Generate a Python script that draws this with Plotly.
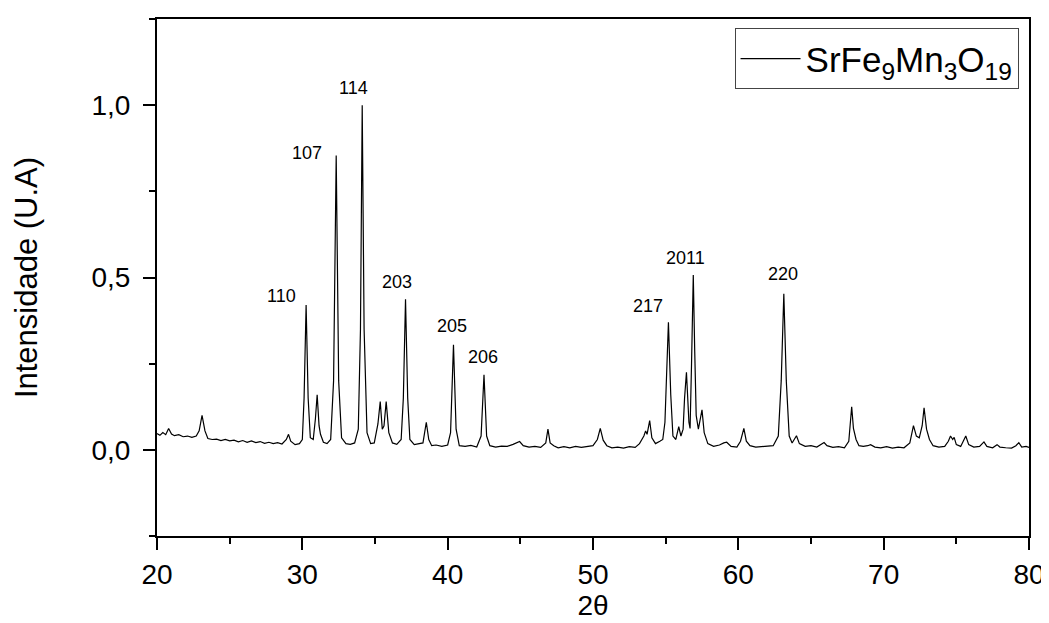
import plotly.graph_objects as go

# XRD pattern (2-theta in degrees, normalised intensity)
two_theta = [
    20.0, 20.2, 20.4, 20.6, 20.8, 21.0, 21.2, 21.5, 21.8, 22.1, 22.4, 22.7, 22.9, 23.1, 23.3, 23.5,
    23.8, 24.1, 24.4, 24.7, 25.0, 25.3, 25.6, 25.9, 26.2, 26.5, 26.8, 27.1, 27.4, 27.7, 28.0, 28.3,
    28.6, 28.9, 29.05, 29.2, 29.5, 29.8, 30.0, 30.12, 30.26, 30.4, 30.55, 30.75, 30.9, 31.02, 31.15,
    31.25, 31.45, 31.7, 31.95, 32.15, 32.33, 32.5, 32.7, 33.0, 33.3, 33.6, 33.85, 34.0, 34.12, 34.25,
    34.45, 34.7, 34.95, 35.1, 35.2, 35.36, 35.5, 35.62, 35.77, 35.95, 36.2, 36.5, 36.8, 36.95, 37.1,
    37.25, 37.4, 37.7, 38.0, 38.3, 38.53, 38.7, 38.9, 39.2, 39.6, 40.0, 40.2, 40.4, 40.58, 40.8, 41.2,
    41.6, 42.0, 42.3, 42.5, 42.68, 42.9, 43.3, 43.7, 44.1, 44.5, 44.75, 44.95, 45.2, 45.6, 46.0, 46.4,
    46.75, 46.9, 47.05, 47.3, 47.6, 48.0, 48.4, 48.8, 49.2, 49.6, 50.0, 50.3, 50.5, 50.7, 50.95, 51.3,
    51.7, 52.1, 52.5, 52.9, 53.2, 53.5, 53.62, 53.72, 53.9, 54.05, 54.3, 54.6, 54.8, 54.95, 55.05,
    55.19, 55.35, 55.5, 55.7, 55.9, 56.05, 56.2, 56.3, 56.43, 56.6, 56.68, 56.78, 56.9, 57.0, 57.1,
    57.25, 57.5, 57.65, 57.9, 58.3, 58.7, 59.0, 59.2, 59.5, 59.9, 60.15, 60.38, 60.55, 60.8, 61.2,
    61.6, 62.0, 62.4, 62.75, 62.95, 63.13, 63.3, 63.5, 63.7, 64.0, 64.2, 64.6, 65.0, 65.4, 65.7, 65.9,
    66.1, 66.5, 66.9, 67.3, 67.6, 67.8, 67.92, 68.1, 68.3, 68.6, 68.9, 69.1, 69.4, 69.8, 70.2, 70.6,
    71.0, 71.4, 71.8, 72.05, 72.25, 72.45, 72.65, 72.78, 72.95, 73.15, 73.4, 73.8, 74.2, 74.45, 74.6,
    74.75, 74.85, 75.0, 75.3, 75.5, 75.65, 75.85, 76.2, 76.6, 76.9, 77.1, 77.5, 77.8, 78.0, 78.4,
    78.8, 79.1, 79.3, 79.5, 79.8, 80.0,
]
intensity = [
    0.047, 0.042, 0.050, 0.044, 0.062, 0.046, 0.041, 0.044, 0.038, 0.040, 0.036, 0.040, 0.055, 0.100, 0.055, 0.033,
    0.030, 0.031, 0.027, 0.030, 0.026, 0.028, 0.023, 0.027, 0.022, 0.026, 0.021, 0.024, 0.019, 0.022, 0.018, 0.021,
    0.017, 0.030, 0.045, 0.025, 0.015, 0.018, 0.030, 0.150, 0.420, 0.150, 0.035, 0.030, 0.090, 0.160, 0.070,
    0.045, 0.022, 0.018, 0.030, 0.200, 0.854, 0.200, 0.035, 0.018, 0.016, 0.020, 0.060, 0.350, 1.000, 0.350,
    0.050, 0.018, 0.020, 0.060, 0.075, 0.140, 0.060, 0.070, 0.140, 0.050, 0.020, 0.016, 0.030, 0.150, 0.437,
    0.150, 0.030, 0.015, 0.017, 0.020, 0.080, 0.030, 0.012, 0.014, 0.010, 0.014, 0.050, 0.305, 0.060, 0.012, 0.010,
    0.013, 0.008, 0.040, 0.218, 0.040, 0.012, 0.008, 0.011, 0.010, 0.016, 0.020, 0.024, 0.012, 0.008, 0.010, 0.007,
    0.020, 0.060, 0.020, 0.012, 0.006, 0.009, 0.006, 0.010, 0.007, 0.010, 0.012, 0.030, 0.062, 0.028, 0.012, 0.006,
    0.008, 0.005, 0.009, 0.007, 0.018, 0.040, 0.055, 0.045, 0.085, 0.035, 0.018, 0.025, 0.030, 0.080, 0.200,
    0.370, 0.160, 0.040, 0.030, 0.067, 0.040, 0.060, 0.150, 0.225, 0.080, 0.062, 0.250, 0.507, 0.285, 0.100,
    0.060, 0.116, 0.050, 0.018, 0.010, 0.014, 0.020, 0.022, 0.010, 0.008, 0.025, 0.062, 0.025, 0.012, 0.008,
    0.010, 0.010, 0.012, 0.040, 0.200, 0.453, 0.200, 0.040, 0.020, 0.041, 0.018, 0.010, 0.012, 0.008, 0.015, 0.021,
    0.012, 0.007, 0.009, 0.006, 0.025, 0.125, 0.062, 0.030, 0.012, 0.010, 0.012, 0.015, 0.008, 0.006, 0.009, 0.005,
    0.008, 0.006, 0.020, 0.070, 0.040, 0.035, 0.070, 0.122, 0.060, 0.030, 0.012, 0.008, 0.010, 0.025, 0.040,
    0.030, 0.036, 0.015, 0.010, 0.025, 0.040, 0.015, 0.008, 0.010, 0.023, 0.010, 0.006, 0.015, 0.008, 0.006,
    0.005, 0.012, 0.021, 0.008, 0.010, 0.007,
]

# Miller-index labels of the main reflections
peak_labels = ["110", "107", "114", "203", "205", "206", "217", "2011", "220"]
label_x = [28.6, 30.3, 33.5, 36.5, 40.3, 42.46, 53.8, 56.37, 63.05]
label_y = [0.446, 0.86, 1.05, 0.487, 0.359, 0.268, 0.417, 0.557, 0.51]

series_name = "SrFe<sub>9</sub>Mn<sub>3</sub>O<sub>19</sub>"

x_ticks = [20, 30, 40, 50, 60, 70, 80]
y_ticks = [0.0, 0.5, 1.0]
y_tick_text = ["0,0", "0,5", "1,0"]

FONT = "Liberation Sans, Arial, sans-serif"

fig = go.Figure()
fig.add_trace(go.Scatter(
    x=two_theta, y=intensity, mode="lines", name=series_name,
    line=dict(color="black", width=1.2),
))

for t, xx, yy in zip(peak_labels, label_x, label_y):
    fig.add_annotation(x=xx, y=yy, text=t, showarrow=False,
                       font=dict(family=FONT, size=18, color="black"),
                       xanchor="center", yanchor="middle")

fig.update_layout(
    width=1049, height=623,
    margin=dict(l=149, r=28, t=11, b=95),
    paper_bgcolor="white", plot_bgcolor="white",
    showlegend=True,
    legend=dict(
        x=0.988, y=0.982, xanchor="right", yanchor="top",
        bordercolor="#444", borderwidth=1, bgcolor="white",
        font=dict(family=FONT, size=35, color="black"),
        itemwidth=60, tracegroupgap=0,
    ),
    font=dict(family=FONT, color="black"),
)

fig.update_xaxes(
    range=[20, 80], tickvals=x_ticks, ticktext=[str(v) for v in x_ticks],
    automargin=False,
    showline=True, linecolor="black", linewidth=2, mirror=True,
    ticks="outside", ticklen=12, tickwidth=2, tickcolor="black",
    minor=dict(dtick=5, tick0=20, ticks="outside", ticklen=6, tickwidth=2, tickcolor="black"),
    showgrid=False, zeroline=False,
    tickfont=dict(family=FONT, size=28, color="black"),
    title=dict(text="2θ", font=dict(family=FONT, size=28, color="black"), standoff=7),
)
fig.update_yaxes(
    range=[-0.25, 1.25], tickvals=y_ticks, ticktext=y_tick_text,
    automargin=False,
    showline=True, linecolor="black", linewidth=2, mirror=True,
    ticks="outside", ticklen=12, tickwidth=2, tickcolor="black",
    minor=dict(dtick=0.25, tick0=0, ticks="outside", ticklen=6, tickwidth=2, tickcolor="black"),
    showgrid=False, zeroline=False, ticklabelstandoff=7,
    tickfont=dict(family=FONT, size=28, color="black"),
    title=dict(text="Intensidade (U.A)", font=dict(family=FONT, size=31, color="black"), standoff=45),
)

fig.write_html("out.html")
